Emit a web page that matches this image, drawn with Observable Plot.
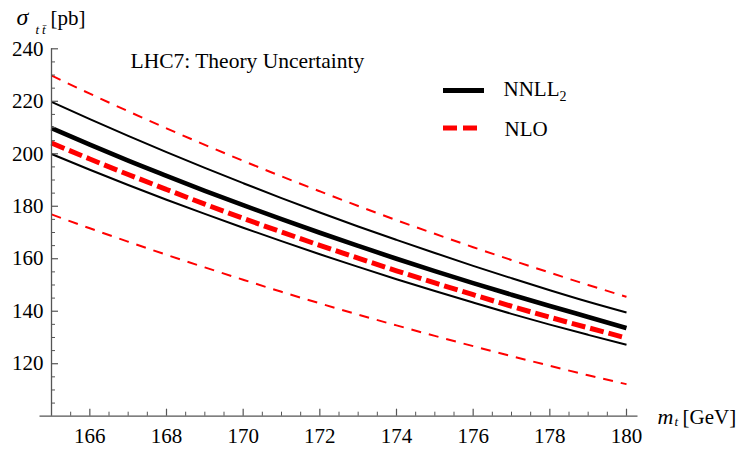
<!DOCTYPE html>
<html>
<head>
<meta charset="utf-8">
<script src="https://cdn.jsdelivr.net/npm/d3@7"></script>
<script src="https://cdn.jsdelivr.net/npm/@observablehq/plot@0.6"></script>
<style>
  html, body { margin: 0; padding: 0; background: #fff; }
  svg text { font-family: 'Liberation Serif', 'Times New Roman', serif; }
</style>
</head>
<body>
<div id="chart"></div>
<script>
// ---------------- data ----------------
const mt = [165, 166, 167, 168, 169, 170, 171, 172, 173, 174, 175, 176, 177, 178, 179, 180];
const nnllCentral = [209.8, 203.5, 197.4, 191.6, 185.9, 180.4, 175.1, 169.9, 164.9, 160.0, 155.3, 150.7, 146.3, 142.0, 137.8, 133.6];
const nnllUpper   = [219.8, 213.2, 206.8, 200.6, 194.6, 188.8, 183.1, 177.6, 172.3, 167.2, 162.2, 157.3, 152.6, 148.0, 143.6, 139.5];
const nnllLower   = [199.9, 193.9, 188.1, 182.5, 177.1, 171.8, 166.7, 161.7, 156.9, 152.2, 147.7, 143.3, 139.0, 134.9, 131.0, 127.2];
const nloCentral  = [204.1, 198.0, 192.1, 186.4, 180.8, 175.4, 170.2, 165.1, 160.2, 155.4, 150.8, 146.3, 141.9, 137.7, 133.7, 129.8];
const nloUpper    = [229.8, 222.9, 216.2, 209.7, 203.4, 197.3, 191.4, 185.7, 180.1, 174.7, 169.5, 164.4, 159.5, 154.7, 150.0, 145.5];
const nloLower    = [176.9, 171.6, 166.5, 161.5, 156.7, 152.0, 147.4, 143.0, 138.7, 134.6, 130.6, 126.7, 122.9, 119.2, 115.6, 112.2];

const xTicks = [166, 168, 170, 172, 174, 176, 178, 180];
const yTicks = [120, 140, 160, 180, 200, 220, 240];
const titleText = "LHC7: Theory Uncertainty";
const legendLabels = ["NNLL", "NLO"];

// ---------------- layout ----------------
const W = 738, H = 450;
const mL = 51, mR = 112, mT = 48.3, mB = 34.3;
const xDom = [165, 180], yDom = [100, 240];
const kx = (xDom[1] - xDom[0]) / (W - mL - mR);   // data units per px
const ky = (yDom[1] - yDom[0]) / (H - mT - mB);
const px2x = p => xDom[0] + (p - mL) * kx;
const px2y = p => yDom[0] + (H - mB - p) * ky;
const axisColor = "#555";
const serif = "'Liberation Serif', 'Times New Roman', serif";

const xMinor = d3.range(165.5, 180, 0.5).filter(v => v % 2 !== 0);
const yMinor = d3.range(105, 240, 5).filter(v => v % 20 !== 0);

const series = ys => mt.map((x, i) => ({x, y: ys[i]}));
const lineOpts = {x: "x", y: "y", curve: "monotone-x", strokeLinecap: "butt"};

const plot = Plot.plot({
  width: W, height: H,
  marginLeft: mL, marginRight: mR, marginTop: mT, marginBottom: mB,
  x: {domain: xDom},
  y: {domain: yDom},
  style: {fontFamily: serif, fontSize: "21px", background: "#fff", color: "#000"},
  marks: [
    // curves
    Plot.line(series(nloUpper), {...lineOpts, stroke: "#ff0000", strokeWidth: 2, strokeDasharray: "10,8"}),
    Plot.line(series(nloLower), {...lineOpts, stroke: "#ff0000", strokeWidth: 2, strokeDasharray: "10,8"}),
    Plot.line(series(nnllUpper), {...lineOpts, stroke: "#000", strokeWidth: 2}),
    Plot.line(series(nnllLower), {...lineOpts, stroke: "#000", strokeWidth: 2}),
    Plot.line(series(nnllCentral), {...lineOpts, stroke: "#000", strokeWidth: 4.6}),
    Plot.line(series(nloCentral), {...lineOpts, stroke: "#ff0000", strokeWidth: 5, strokeDasharray: "14,5"}),

    // axis lines
    Plot.ruleY([yDom[0]], {x1: px2x(39.5), x2: px2x(637.5), stroke: axisColor, strokeWidth: 1.3}),
    Plot.ruleX([xDom[0]], {y1: yDom[0], y2: yDom[1], stroke: axisColor, strokeWidth: 1.3}),
    // ticks (inward)
    Plot.ruleX(xTicks, {x: d => d, y1: yDom[0], y2: yDom[0] + 7 * ky, stroke: axisColor, strokeWidth: 1.2}),
    Plot.ruleX(xMinor, {x: d => d, y1: yDom[0], y2: yDom[0] + 4 * ky, stroke: axisColor, strokeWidth: 1}),
    Plot.ruleY(yTicks, {y: d => d, x1: xDom[0], x2: xDom[0] + 7 * kx, stroke: axisColor, strokeWidth: 1.2}),
    Plot.ruleY(yMinor, {y: d => d, x1: xDom[0], x2: xDom[0] + 4 * kx, stroke: axisColor, strokeWidth: 1}),
    // tick labels
    Plot.axisX({ticks: xTicks, tickSize: 0, tickPadding: 12, label: null, fontSize: 21, fontFamily: serif, fontVariant: "normal"}),
    Plot.axisY({ticks: yTicks, tickSize: 0, tickPadding: 8, label: null, fontSize: 21, fontFamily: serif, fontVariant: "normal"}),

    // title
    Plot.text([titleText], {x: px2x(130), y: px2y(67.3), text: d => d, textAnchor: "start", lineAnchor: "bottom", fontSize: 21.5, fontFamily: serif}),

    // legend
    Plot.ruleY([px2y(90)], {x1: px2x(443), x2: px2x(484), stroke: "#000", strokeWidth: 5}),
    Plot.ruleY([px2y(127.5)], {x1: px2x(443), x2: px2x(477), stroke: "#ff0000", strokeWidth: 5, strokeDasharray: "14,6"}),
    Plot.text(["KEY_NNLL"], {x: px2x(503), y: px2y(95.7), text: d => d, textAnchor: "start", lineAnchor: "bottom", fontSize: 21, fontFamily: serif}),
    Plot.text([legendLabels[1]], {x: px2x(504), y: px2y(135), text: d => d, textAnchor: "start", lineAnchor: "bottom", fontSize: 21, fontFamily: serif}),

    // axis labels
    Plot.text(["KEY_YLAB"], {x: px2x(16), y: px2y(24), text: d => d, textAnchor: "start", lineAnchor: "bottom", fontSize: 21, fontFamily: serif}),
    Plot.text(["KEY_XLAB"], {x: px2x(657), y: px2y(423.3), text: d => d, textAnchor: "start", lineAnchor: "bottom", fontSize: 21, fontFamily: serif})
  ]
});

// rich text (italics, subscripts)
function rich(svg, key, parts) {
  d3.select(svg).selectAll("text")
    .filter(function () { return this.textContent === key; })
    .each(function () {
      const t = d3.select(this);
      t.attr("y", null).attr("dy", null).text(null);
      for (const p of parts) {
        const s = t.append("tspan").text(p.t);
        if (p.italic) s.attr("font-style", "italic");
        if (p.size) s.attr("font-size", p.size);
        if (p.x != null) s.attr("x", p.x);
        if (p.dy) s.attr("dy", p.dy);
      }
    });
}
rich(plot, "KEY_NNLL", [
  {t: legendLabels[0]},
  {t: "2", size: 14, dy: 4.5},
]);
rich(plot, "KEY_YLAB", [
  {t: "σ", italic: true, size: 24, x: 0},
  {t: "t", italic: true, size: 13, x: 19, dy: 9},
  {t: "t\u0304", italic: true, size: 13, x: 25.5},
  {t: "[pb]", size: 21, x: 34, dy: -9}
]);
rich(plot, "KEY_XLAB", [
  {t: "m", italic: true, size: 22, x: 0},
  {t: "t", italic: true, size: 13, x: 17, dy: 2},
  {t: "[GeV]", size: 21, x: 25, dy: -2}
]);
d3.select(plot).selectAll("text").attr("font-family", serif);

document.getElementById("chart").appendChild(plot);
</script>
</body>
</html>
